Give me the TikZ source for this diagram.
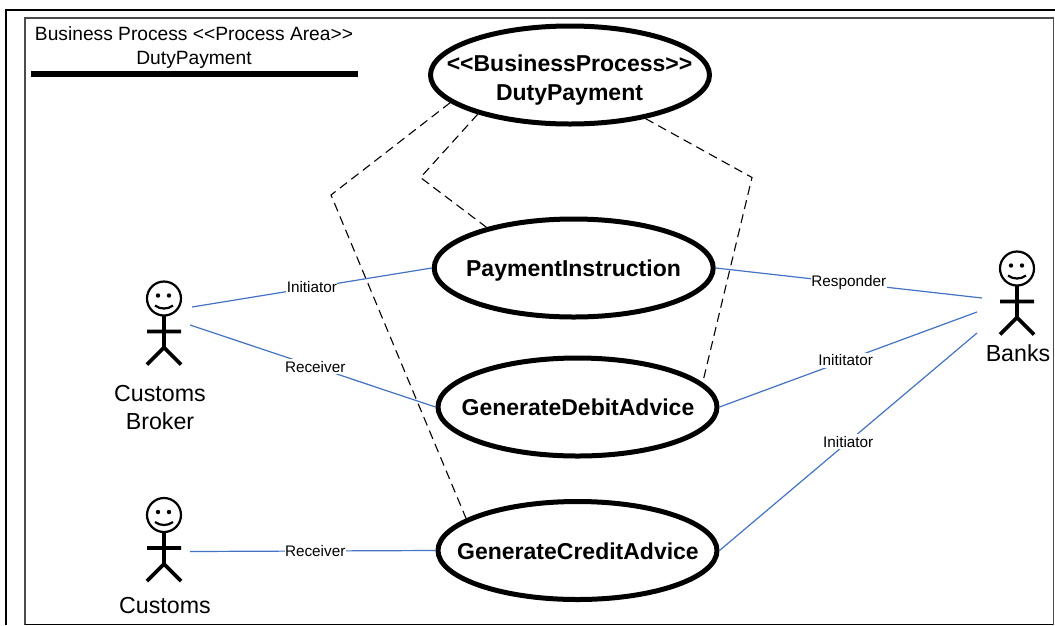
\documentclass[tikz,border=0pt]{standalone}
\usepackage{fontspec}
\setmainfont{Liberation Sans}
\usetikzlibrary{shapes.geometric}
\definecolor{linkblue}{RGB}{68,114,196}
\tikzset{
  x=1pt,y=-1pt,
  usecase/.style={ellipse,draw=black,line width=5pt,fill=white,minimum width=279pt,minimum height=98pt,inner sep=0pt},
  casetext/.style={font=\fontsize{23}{29}\selectfont\bfseries,align=center,inner sep=0pt},
  link/.style={draw=linkblue,line width=1.2pt},
  linklabel/.style={fill=white,inner xsep=0.5pt,inner ysep=2pt,font=\fontsize{15.3}{18}\selectfont,text=black},
  dashlink/.style={draw=black,line width=1.1pt,dash pattern=on 9pt off 5.5pt},
  actorname/.style={font=\fontsize{23.2}{28}\selectfont,align=center},
  stick/.style={draw=black,line width=3.6pt},
  pics/actor/.style={code={
    \draw[draw=black,line width=2.2pt] (0,0) circle[radius=17];
    \fill (-6,-3) circle[radius=2.2] (5,-3) circle[radius=2.2];
    \draw[draw=black,line width=2.2pt] (-9,7) .. controls (-4,11) and (4,11) .. (9,7);
    \draw[stick] (0,17) -- (0,49) (-17,33) -- (17,33) (-17,66) -- (0,49) -- (17,66);
  }}
}
\begin{document}
\begin{tikzpicture}
\useasboundingbox (0,0) rectangle (1055,625);
\fill[white] (0,0) rectangle (1055,625);
% frames
\draw[black,line width=2.5pt] (6,625) -- (6,10) -- (1055,10);
\draw[black!70,line width=1.5pt] (25,625) -- (25,18) -- (1053.5,18) -- (1053.5,625);
\draw[black,line width=1pt] (25,624) -- (1053,624);
% title
\node[font=\fontsize{19.2}{24}\selectfont,align=center,inner sep=0pt] (title) at (194,47.5) {Business Process <{}<Process Area>{}>\\DutyPayment};
\coordinate (barL) at (31,74);
\coordinate (barR) at (358,74);
\draw[black,line width=5.5pt] (barL) -- (barR);
% use cases
\node[usecase] (top) at (570,75) {};
\node[usecase] (pay) at (573.7,268) {};
\node[usecase] (debit) at (577.5,407) {};
\node[usecase] (credit) at (577.5,550.5) {};
\node[casetext] (topText) at (569.5,80) {<{}<BusinessProcess>{}>\\DutyPayment};
\node[casetext] (payText) at (573.5,270.5) {PaymentInstruction};
\node[casetext] (debitText) at (578,407) {GenerateDebitAdvice};
\node[casetext] (creditText) at (578,551) {GenerateCreditAdvice};
% actors
\pic at (164,298.5) {actor};
\pic at (164,515) {actor};
\pic at (1017,268.5) {actor};
\node[actorname] (brokerName) at (160,407.5) {Customs\\Broker};
\node[actorname] (customsName) at (165,606) {Customs};
\node[actorname] (banksName) at (1018,353) {Banks};
\coordinate (b1) at (192,307);
\coordinate (b2) at (190,325);
\coordinate (c1) at (190,551.5);
\coordinate (k1) at (982,298);
\coordinate (k2) at (977,312);
\coordinate (k3) at (977,333);
% dashed
\coordinate (d1) at (331,195);
\coordinate (d2) at (420.5,177.5);
\coordinate (d3) at (752,177.5);
\draw[dashlink] (top.193.4) -- (d1) -- (credit.164.4);
\draw[dashlink] (top.203.8) -- (d2) -- (pay.155);
\draw[dashlink] (top.330.1) -- (d3) -- (debit.11.7);
% links
\draw[link] (b1) -- node[linklabel,pos=.5] {Initiator} (pay.west);
\draw[link] (b2) -- node[linklabel,pos=.51] {Receiver} (debit.west);
\draw[link] (c1) -- node[linklabel,pos=.51] {Receiver} (credit.west);
\draw[link] (pay.east) -- node[linklabel,pos=.5] {Responder} (k1);
\draw[link] (debit.east) -- node[linklabel,pos=.49] {Inititator} (k2);
\draw[link] (credit.east) -- node[linklabel,pos=.5] {Initiator} (k3);
\end{tikzpicture}
\end{document}
